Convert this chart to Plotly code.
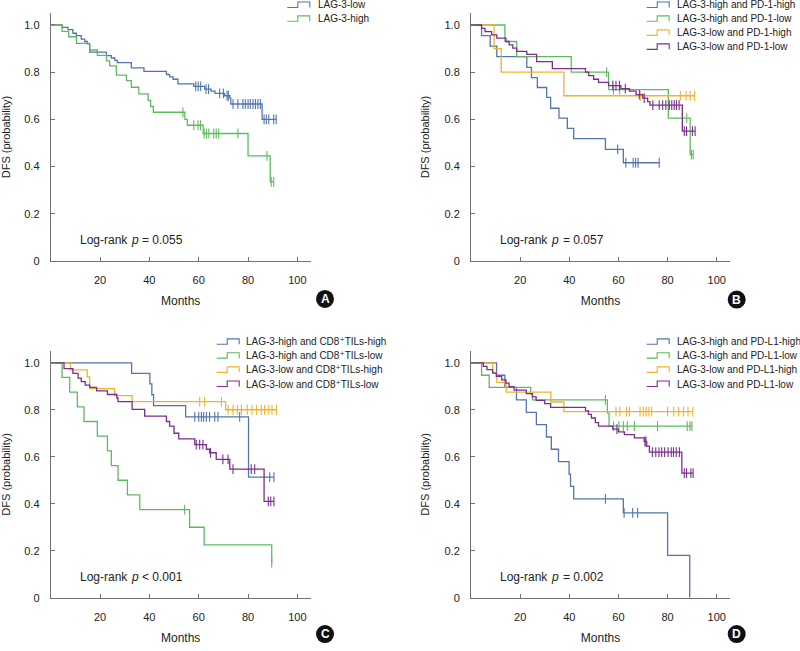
import numpy as np
import plotly.graph_objects as go

# ---------------- data ----------------
# Panel A
a_low_t = [4.6, 7.0, 9.0, 10.4, 12.4, 13.8, 14.8, 15.8, 22.6, 24.6, 26.0, 27.0, 32.7, 37.8, 46.9, 48.2, 49.6, 51.6, 58.0, 62.4, 65.0, 66.6, 70.5, 72.6, 73.0, 85.7]
a_low_s = [0.99, 0.98, 0.965, 0.955, 0.94, 0.93, 0.92, 0.885, 0.87, 0.86, 0.85, 0.84, 0.818, 0.803, 0.79, 0.78, 0.77, 0.75, 0.74, 0.728, 0.72, 0.71, 0.70, 0.69, 0.665, 0.60]
a_low_c = [58.8, 59.8, 60.8, 63.0, 64.0, 68.5, 70.0, 71.5, 72.0, 73.9, 75.9, 77.9, 78.9, 80.0, 80.9, 82.0, 83.0, 84.0, 85.0, 86.5, 87.4, 88.4, 90.4, 91.4]

a_high_t = [4.6, 7.3, 10.4, 15.8, 18.9, 22.6, 23.9, 26.6, 30.7, 32.7, 35.7, 39.5, 40.5, 41.6, 54.4, 55.4, 61.8, 80.0, 89.0]
a_high_s = [0.973, 0.95, 0.922, 0.894, 0.871, 0.848, 0.827, 0.787, 0.764, 0.736, 0.708, 0.68, 0.655, 0.63, 0.60, 0.575, 0.54, 0.445, 0.335]
a_high_c = [53.6, 58.0, 59.7, 60.7, 62.2, 63.1, 64.1, 66.1, 67.1, 68.1, 75.9, 87.7, 89.4, 90.4]

# Panel B
b_hh_t = [4.3, 7.8, 10.5, 22.7, 24.6, 27.0, 30.8, 32.4, 35.8, 39.2, 41.8, 54.7, 62.0]
b_hh_s = [0.955, 0.91, 0.866, 0.82, 0.777, 0.735, 0.693, 0.647, 0.605, 0.562, 0.518, 0.473, 0.416]
b_hh_c = [59.7, 63.0, 66.0, 67.0, 68.0, 76.6]

b_hl_t = [13.8, 18.6, 40.8, 56.0, 80.3, 89.2]
b_hl_s = [0.93, 0.866, 0.80, 0.726, 0.605, 0.45]
b_hl_c = [55.2, 58.0, 60.5, 87.8, 89.7, 90.4]

b_lh_t = [9.4, 12.3, 37.8]
b_lh_s = [0.90, 0.80, 0.70]
b_lh_c = [68.9, 85.2, 87.5, 89.2, 91.0]

b_ll_t = [4.3, 5.7, 8.4, 10.5, 14.2, 15.5, 17.0, 18.6, 22.7, 26.7, 33.1, 46.6, 47.9, 49.9, 51.9, 56.0, 61.0, 64.5, 67.2, 69.9, 71.9, 72.8, 86.0]
b_ll_s = [0.986, 0.972, 0.958, 0.944, 0.93, 0.916, 0.902, 0.888, 0.875, 0.845, 0.815, 0.80, 0.785, 0.77, 0.757, 0.743, 0.73, 0.72, 0.705, 0.69, 0.675, 0.66, 0.55]
b_ll_c = [57.7, 59.0, 60.4, 62.8, 68.5, 70.5, 74.0, 76.6, 78.0, 79.3, 80.7, 81.7, 82.7, 83.6, 84.7, 86.8, 87.7, 90.1, 91.2]

# Panel C
c_hh_t = [32.8, 40.2, 41.0, 41.7, 54.7, 80.2]
c_hh_s = [0.955, 0.91, 0.864, 0.818, 0.77, 0.513]
c_hh_c = [58.4, 60.0, 61.1, 62.0, 63.1, 64.4, 66.5, 67.8, 76.6, 88.8, 90.5]

c_hl_t = [4.6, 7.7, 10.8, 13.5, 18.9, 23.0, 24.6, 27.3, 31.1, 36.1, 56.3, 62.2, 89.6]
c_hl_s = [0.9375, 0.875, 0.8125, 0.75, 0.6875, 0.625, 0.5625, 0.5, 0.4375, 0.375, 0.30, 0.225, 0.15]
c_hl_c = [54.3, 89.6]

c_lh_t = [8.0, 14.8, 15.8, 25.9, 33.0, 70.9]
c_lh_s = [0.97, 0.94, 0.89, 0.86, 0.835, 0.80]
c_lh_c = [60.4, 62.4, 69.2, 71.9, 73.9, 75.7, 77.3, 79.7, 81.6, 83.4, 85.4, 86.7, 88.4, 89.7, 91.5]

c_ll_t = [5.4, 9.0, 11.1, 12.4, 14.0, 15.8, 18.6, 23.0, 26.8, 27.3, 33.0, 38.1, 46.9, 48.2, 50.0, 51.9, 58.4, 63.1, 64.4, 67.1, 72.6, 86.5]
c_ll_s = [0.975, 0.955, 0.935, 0.92, 0.905, 0.895, 0.88, 0.865, 0.85, 0.835, 0.802, 0.773, 0.75, 0.73, 0.70, 0.676, 0.652, 0.632, 0.617, 0.589, 0.547, 0.41]
c_ll_c = [59.0, 60.4, 61.7, 64.8, 69.8, 71.9, 73.9, 81.3, 82.7, 88.2, 89.2, 90.5]

# Panel D
d_hh_t = [10.4, 13.8, 18.5, 22.5, 26.6, 30.7, 32.7, 35.6, 39.9, 40.5, 41.8, 62.0, 80.0, 89.0]
d_hh_s = [0.947, 0.895, 0.842, 0.789, 0.737, 0.684, 0.632, 0.579, 0.526, 0.474, 0.421, 0.361, 0.18, 0.0]
d_hh_c = [54.7, 62.3, 65.8, 67.8]

d_hl_t = [4.3, 7.4, 24.3, 25.0, 55.5, 56.2]
d_hl_s = [0.947, 0.895, 0.868, 0.842, 0.786, 0.73]
d_hl_c = [54.7, 58.0, 60.2, 62.0, 63.6, 66.5, 75.9, 88.0, 89.1, 89.9]

d_lh_t = [8.8, 10.5, 14.3, 32.5, 37.8]
d_lh_s = [0.958, 0.917, 0.875, 0.833, 0.792]
d_lh_c = [59.0, 60.6, 63.3, 64.5, 68.8, 70.1, 71.3, 72.4, 73.5, 80.0, 82.5, 84.5, 86.5, 88.3, 90.3]

d_ll_t = [5.0, 6.5, 8.8, 10.3, 12.5, 14.2, 15.5, 17.5, 22.5, 25.0, 26.5, 30.0, 32.4, 46.6, 47.8, 49.0, 50.6, 51.9, 57.7, 60.0, 62.4, 66.5, 70.5, 71.5, 72.6, 85.8]
d_ll_s = [0.985, 0.971, 0.956, 0.942, 0.927, 0.913, 0.898, 0.884, 0.869, 0.855, 0.84, 0.826, 0.81, 0.795, 0.78, 0.765, 0.745, 0.73, 0.718, 0.706, 0.694, 0.68, 0.665, 0.645, 0.62, 0.53]
d_ll_c = [59.4, 70.8, 71.2, 73.8, 75.2, 76.5, 77.6, 78.8, 80.2, 81.5, 82.4, 83.5, 84.8, 86.8, 87.7, 89.5, 90.4]

x_ticks = [20, 40, 60, 80, 100]
y_ticks = [0, 0.2, 0.4, 0.6, 0.8, 1.0]
y_ticktext = ["0", "0.2", "0.4", "0.6", "0.8", "1.0"]
x_title = "Months"
y_title = "DFS (probability)"

# log-rank label pieces: prefix, italic p, rest
p_rest = {"A": "= 0.055", "B": "= 0.057", "C": "&lt; 0.001", "D": "= 0.002"}

names_A = ["LAG-3-low", "LAG-3-high"]
names_B = ["LAG-3-high and PD-1-high", "LAG-3-high and PD-1-low", "LAG-3-low and PD-1-high", "LAG-3-low and PD-1-low"]
names_C = ["LAG-3-high and CD8\u207aTILs-high", "LAG-3-high and CD8\u207aTILs-low",
           "LAG-3-low and CD8\u207aTILs-high", "LAG-3-low and CD8\u207aTILs-low"]
names_D = ["LAG-3-high and PD-L1-high", "LAG-3-high and PD-L1-low", "LAG-3-low and PD-L1-high", "LAG-3-low and PD-L1-low"]

BLUE, GREEN, ORANGE, PURPLE = "#5374b0", "#5fba5f", "#f2b22a", "#7a2e8e"

W, H = 800, 651
FONT = "Liberation Sans, Arial, DejaVu Sans, sans-serif"
AXC = "#707070"

# panel geometry in pixels (layout only)
geom = {
    "A": dict(l=50.7, r=310.7, t=13.3, b=263.3, ax=""),
    "B": dict(l=471.0, r=730.0, t=13.3, b=263.3, ax="2"),
    "C": dict(l=50.7, r=310.7, t=354.3, b=603.3, ax="3"),
    "D": dict(l=471.0, r=730.0, t=354.3, b=603.3, ax="4"),
}

series = {
    "A": [(a_low_t, a_low_s, a_low_c, BLUE), (a_high_t, a_high_s, a_high_c, GREEN)],
    "B": [(b_hh_t, b_hh_s, b_hh_c, BLUE), (b_hl_t, b_hl_s, b_hl_c, GREEN),
          (b_lh_t, b_lh_s, b_lh_c, ORANGE), (b_ll_t, b_ll_s, b_ll_c, PURPLE)],
    "C": [(c_hh_t, c_hh_s, c_hh_c, BLUE), (c_hl_t, c_hl_s, c_hl_c, GREEN),
          (c_lh_t, c_lh_s, c_lh_c, ORANGE), (c_ll_t, c_ll_s, c_ll_c, PURPLE)],
    "D": [(d_hh_t, d_hh_s, d_hh_c, BLUE), (d_hl_t, d_hl_s, d_hl_c, GREEN),
          (d_lh_t, d_lh_s, d_lh_c, ORANGE), (d_ll_t, d_ll_s, d_ll_c, PURPLE)],
}
legend_names = {"A": names_A, "B": names_B, "C": names_C, "D": names_D}
legend_pos = {  # glyph left x, text left x, row centres (pixels)
    "A": (287.3, 316.0, [5.0, 19.0]),
    "B": (646.7, 675.0, [5.0, 19.0, 33.2, 47.3]),
    "C": (216.7, 243.5, [345.0, 359.0, 373.3, 387.6]),
    "D": (646.7, 675.0, [345.0, 359.0, 373.3, 387.6]),
}
circle_pos = {"A": (325.0, 301.7), "B": (736.7, 302.3), "C": (325.0, 640.0), "D": (736.7, 640.0)}


def px(x):
    return x / W


def py(y):
    return 1 - y / H


fig = go.Figure()
layout_axes = {}
annotations = []
shapes = []

for key, g in geom.items():
    ax = g["ax"]
    xa, ya = "x" + ax, "y" + ax
    for t, s, c, col in series[key]:
        t = np.asarray(t, float)
        s = np.asarray(s, float)
        c = np.asarray(c, float)
        end = max(t.max(), c.max() if c.size else 0)
        xs = np.concatenate([[0.0], t, [end]])
        ys = np.concatenate([[1.0], s, [s[-1]]])
        fig.add_trace(go.Scatter(x=xs, y=ys, mode="lines", line=dict(color=col, width=1.3, shape="hv"),
                                 xaxis=xa, yaxis=ya, showlegend=False, hoverinfo="skip"))
        if c.size:
            idx = np.searchsorted(t, c, side="right") - 1
            cy = np.where(idx >= 0, s[np.clip(idx, 0, None)], 1.0)
            fig.add_trace(go.Scatter(x=c, y=cy, mode="markers",
                                     marker=dict(symbol="line-ns", size=7, line=dict(color=col, width=1.1)),
                                     xaxis=xa, yaxis=ya, showlegend=False, hoverinfo="skip"))

    common = dict(showline=True, linecolor=AXC, linewidth=1, showgrid=False, zeroline=False,
                  ticks="inside", ticklen=4, tickcolor=AXC, tickwidth=1,
                  tickfont=dict(family=FONT, size=11, color="#222"))
    layout_axes["xaxis" + ax] = dict(common, domain=[px(g["l"]), px(g["r"])], range=[0, 105.4],
                                     tickvals=x_ticks, anchor=ya, ticklabelstandoff=9,
                                     title=dict(text=x_title, standoff=11,
                                                font=dict(family=FONT, size=12, color="#222")))
    layout_axes["yaxis" + ax] = dict(common, domain=[py(g["b"]), py(g["t"])], range=[0, 1.05],
                                     tickvals=y_ticks, ticktext=y_ticktext, anchor=xa, ticklabelstandoff=8,
                                     title=dict(text=y_title, standoff=12,
                                                font=dict(family=FONT, size=11, color="#222")))

    # "Log-rank p = ..." as three pieces (italic p)
    lx, ly = g["l"] + 27.3, g["b"] - 21
    for txt, dx, style in (("Log-rank", 0.0, "normal"), ("p", 50.8, "italic"), (p_rest[key], 62.3, "normal")):
        annotations.append(dict(text=txt, x=px(lx + dx), y=py(ly), xref="paper", yref="paper",
                                showarrow=False, xanchor="left", yanchor="middle",
                                font=dict(family=FONT, size=12, color="#222", style=style)))

    # legend drawn as KM-style step glyphs + text
    gx, tx, rows = legend_pos[key]
    for (t, s, c, col), name, ry in zip(series[key], legend_names[key], rows):
        path = "M {:.5f},{:.5f} L {:.5f},{:.5f} L {:.5f},{:.5f} L {:.5f},{:.5f} L {:.5f},{:.5f}".format(
            px(gx), py(ry + 2.5), px(gx + 10.5), py(ry + 2.5), px(gx + 10.5), py(ry - 3),
            px(gx + 22.5), py(ry - 3), px(gx + 22.5), py(ry + 2.5))
        shapes.append(dict(type="path", path=path, xref="paper", yref="paper",
                           line=dict(color=col, width=1.1)))
        annotations.append(dict(text=name, x=px(tx), y=py(ry), xref="paper", yref="paper",
                                showarrow=False, xanchor="left", yanchor="middle",
                                font=dict(family=FONT, size=10, color="#222")))

    # panel letter
    cx, cyy = circle_pos[key]
    shapes.append(dict(type="circle", xref="paper", yref="paper", xsizemode="pixel", ysizemode="pixel",
                       xanchor=px(cx), yanchor=py(cyy), x0=-9, x1=9, y0=-9, y1=9,
                       fillcolor="#111", line=dict(width=0)))
    annotations.append(dict(text=key, x=px(cx), y=py(cyy), xref="paper", yref="paper",
                            showarrow=False, xanchor="center", yanchor="middle",
                            font=dict(family=FONT, size=12, color="white", weight="bold")))

fig.update_layout(width=W, height=H, margin=dict(l=0, r=0, t=0, b=0),
                  paper_bgcolor="white", plot_bgcolor="white",
                  annotations=annotations, shapes=shapes, showlegend=False, **layout_axes)

fig.write_html("out.html", config={"displayModeBar": False},
               post_script="document.body.style.margin='0';")
